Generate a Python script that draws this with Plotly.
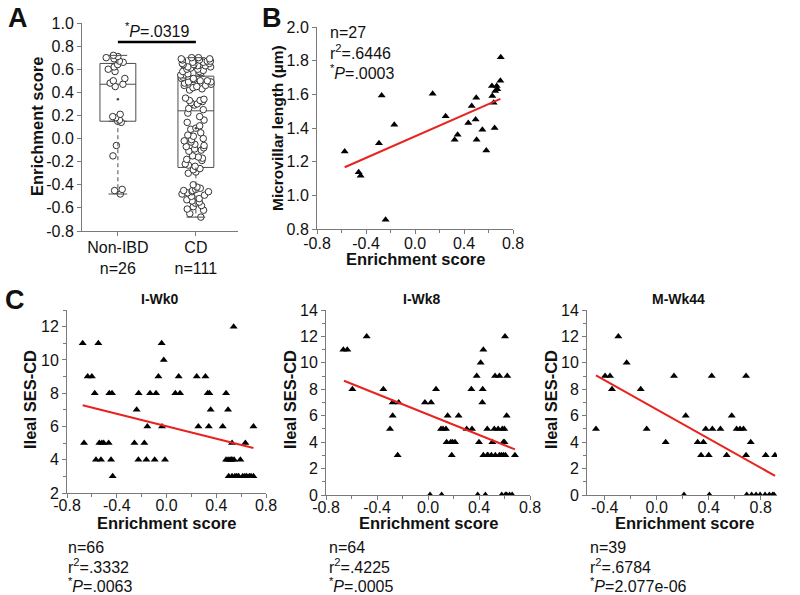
import plotly.graph_objects as go

W, H = 800, 595
FONT = "Arial, Liberation Sans, sans-serif"
AXC = "#7a7a7a"

# ---------------- Panel A data ----------------
groups = ["Non-IBD", "CD"]
group_n = [26, 111]
a_q1 = [0.15, -0.25]
a_median = [0.47, 0.24]
a_q3 = [0.65, 0.54]
a_lower = [-0.48, -0.68]
a_upper = [0.72, 0.70]
a_mean = [0.34, 0.09]
nonibd_scores = [0.72, 0.71, 0.70, 0.69, 0.67, 0.66, 0.64, 0.62, 0.60, 0.58, 0.52, 0.50,
                 0.48, 0.47, 0.45, 0.21, 0.19, 0.18, 0.16, 0.15, 0.14, -0.06, -0.15,
                 -0.44, -0.45, -0.48]
cd_scores = [0.70, 0.70, 0.69, 0.69, 0.68, 0.68, 0.67, 0.67, 0.66, 0.66, 0.65, 0.65,
             0.64, 0.64, 0.63, 0.63, 0.62, 0.62, 0.61, 0.60, 0.60, 0.59, 0.58, 0.58,
             0.57, 0.56, 0.55, 0.55, 0.54, 0.53, 0.52, 0.52, 0.51, 0.50, 0.50, 0.49,
             0.49, 0.48, 0.47, 0.46, 0.46, 0.45, 0.44, 0.43, 0.42,
             0.35, 0.34, 0.33, 0.33, 0.32, 0.31, 0.30, 0.29, 0.26, 0.25,
             0.22, 0.19, 0.16, 0.14, 0.11, 0.09, 0.08,
             0.05, 0.03, 0.02, 0.00, -0.01, -0.02, -0.03, -0.05, -0.06, -0.07, -0.08,
             -0.09, -0.10, -0.11,
             -0.15, -0.16, -0.17, -0.18, -0.19, -0.22, -0.23, -0.24, -0.26, -0.27,
             -0.29, -0.30,
             -0.40, -0.42, -0.43, -0.44, -0.45, -0.45, -0.46, -0.46, -0.47, -0.48,
             -0.49, -0.50, -0.52, -0.53, -0.54, -0.55, -0.56, -0.58, -0.59, -0.61,
             -0.62, -0.65, -0.68]
a_sig_y = 0.836
a_sig_text = "<sup>*</sup><i>P</i>=.0319"
a_yticks = [-0.8, -0.6, -0.4, -0.2, 0.0, 0.2, 0.4, 0.6, 0.8, 1.0]
a_yticklabels = ["-0.8", "-0.6", "-0.4", "-0.2", "0.0", "0.2", "0.4", "0.6", "0.8", "1.0"]

# ---------------- Panel B data ----------------
b_x = [-0.574, -0.46, -0.444, -0.294, -0.272, -0.24, -0.169, 0.144, 0.25, 0.324,
       0.348, 0.435, 0.463, 0.495, 0.50, 0.503, 0.55, 0.582, 0.628, 0.631, 0.642,
       0.65, 0.667, 0.672, 0.697, 0.70, 0.655]
b_y = [1.26, 1.137, 1.117, 1.31, 1.593, 0.855, 1.42, 1.603, 1.47, 1.33,
       1.36, 1.43, 1.53, 1.45, 1.58, 1.33, 1.39, 1.266, 1.649, 1.59, 1.55,
       1.40, 1.649, 1.63, 1.68, 1.82, 1.62]
b_fit_x = [-0.574, 0.697]
b_fit_y = [1.167, 1.573]
b_stats = ["n=27", "r<sup>2</sup>=.6446", "<sup>*</sup><i>P</i>=.0003"]
b_yticks = [0.8, 1.0, 1.2, 1.4, 1.6, 1.8, 2.0]
b_yticklabels = ["0.8", "1.0", "1.2", "1.4", "1.6", "1.8", "2.0"]

es_ticks = [-0.8, -0.4, 0.0, 0.4, 0.8]
es_ticklabels = ["-0.8", "-0.4", "0.0", "0.4", "0.8"]

# ---------------- Panel C data ----------------
c_titles = ["I-Wk0", "I-Wk8", "M-Wk44"]

c1_levels = [12, 11, 10, 9, 8, 7, 6, 5, 4, 3]
c1_x_by_level = [
    [0.54],
    [-0.674, -0.548, -0.039],
    [-0.022],
    [-0.634, -0.60, -0.065, 0.098, 0.243, 0.313],
    [-0.577, -0.46, -0.438, -0.224, -0.132, -0.084, 0.071, 0.109, 0.331, 0.345, 0.479],
    [-0.24, 0.355, 0.495],
    [-0.154, -0.036, 0.256, 0.34, 0.452, 0.699],
    [-0.663, -0.54, -0.52, -0.505, -0.465, -0.258, -0.178, 0.527, 0.634],
    [-0.567, -0.527, -0.446, -0.226, -0.162, -0.095, -0.012, 0.479, 0.495, 0.511,
     0.52, 0.527, 0.543, 0.594],
    [-0.433, 0.50, 0.527, 0.55, 0.565, 0.58, 0.613, 0.63, 0.645, 0.666, 0.68, 0.699],
]
c1_fit_x = [-0.674, 0.699]
c1_fit_y = [7.28, 4.71]
c1_stats = ["n=66", "r<sup>2</sup>=.3332", "<sup>*</sup><i>P</i>=.0063"]

c2_levels = [12, 11, 10, 9, 8, 7, 6, 5, 4, 3, 0]
c2_x_by_level = [
    [-0.481, 0.604],
    [-0.664, -0.633, 0.434],
    [0.413],
    [0.382, 0.526, 0.56, 0.622],
    [-0.593, -0.35, 0.063, 0.34, 0.429],
    [-0.277, -0.23, -0.024, 0.024, 0.426],
    [-0.277, 0.154, 0.24, 0.617],
    [-0.298, 0.102, 0.118, 0.141, 0.303, 0.345, 0.465, 0.52, 0.55, 0.583, 0.599],
    [0.146, 0.178, 0.193, 0.212, 0.40, 0.505, 0.591, 0.60],
    [-0.238, 0.186, 0.434, 0.465, 0.47, 0.497, 0.528, 0.56, 0.575, 0.591, 0.607, 0.682],
    [0.016, 0.107, 0.39, 0.45, 0.578, 0.607, 0.617, 0.64, 0.66],
]
c2_fit_x = [-0.659, 0.682]
c2_fit_y = [8.65, 3.45]
c2_stats = ["n=64", "r<sup>2</sup>=.4225", "<sup>*</sup><i>P</i>=.0005"]

c3_levels = [12, 10, 9, 8, 6, 5, 4, 3, 0]
c3_x_by_level = [
    [-0.295],
    [-0.231],
    [-0.397, -0.359, 0.133, 0.423, 0.687],
    [-0.344, -0.123],
    [0.223, 0.577],
    [-0.467, -0.077, 0.377, 0.428, 0.49, 0.615, 0.641, 0.667],
    [0.069, 0.315, 0.359, 0.723],
    [0.341, 0.40, 0.538, 0.687, 0.838, 0.91],
    [0.21, 0.405, 0.692, 0.73, 0.764, 0.795, 0.833, 0.866, 0.892, 0.902],
]
c3_fit_x = [-0.467, 0.91]
c3_fit_y = [9.05, 1.45]
c3_stats = ["n=39", "r<sup>2</sup>=.6784", "<sup>*</sup><i>P</i>=2.077e-06"]


def flatten(levels, xs_by_level):
    xs, ys = [], []
    for lv, xs_l in zip(levels, xs_by_level):
        xs.extend(xs_l)
        ys.extend([lv] * len(xs_l))
    return xs, ys


def dx(p0, p1):
    return [p0 / W, p1 / W]


def dy(top, bottom):
    return [1 - bottom / H, 1 - top / H]


def px(x):
    return x / W


def py(y):
    return 1 - y / H


fig = go.Figure()

# ---------- Panel A ----------
box_w = 0.46
cap_half = 0.12
BOXC = "#4d4d4d"
for i, g in enumerate(groups):
    fig.add_trace(go.Box(
        x=[i], q1=[a_q1[i]], median=[a_median[i]], q3=[a_q3[i]],
        lowerfence=[a_q1[i]], upperfence=[a_q3[i]], width=box_w,
        fillcolor="rgba(0,0,0,0)", line=dict(color=BOXC, width=1),
        boxpoints=False, xaxis="x", yaxis="y", showlegend=False, hoverinfo="skip"))
    fig.add_trace(go.Scatter(
        x=[i, i, None, i, i], y=[a_q1[i], a_lower[i], None, a_q3[i], a_upper[i]],
        mode="lines", line=dict(color=BOXC, width=1, dash="4px,3px"),
        xaxis="x", yaxis="y", showlegend=False, hoverinfo="skip"))
    fig.add_trace(go.Scatter(
        x=[i - cap_half, i + cap_half, None, i - cap_half, i + cap_half],
        y=[a_lower[i], a_lower[i], None, a_upper[i], a_upper[i]],
        mode="lines", line=dict(color=BOXC, width=1),
        xaxis="x", yaxis="y", showlegend=False, hoverinfo="skip"))

for i, vals in enumerate([nonibd_scores, cd_scores]):
    fig.add_trace(go.Box(
        x=[i] * len(vals), y=vals, width=box_w, boxpoints="all", jitter=0.85, pointpos=0,
        fillcolor="rgba(0,0,0,0)", line=dict(color="rgba(0,0,0,0)", width=0),
        marker=dict(symbol="circle", size=6.5, color="white",
                    line=dict(color="#333333", width=1)),
        xaxis="x", yaxis="y", showlegend=False))

fig.add_trace(go.Scatter(
    x=[0, 1], y=a_mean, mode="markers", marker=dict(size=2.5, color="#444444"),
    xaxis="x", yaxis="y", showlegend=False, hoverinfo="skip"))

fig.add_trace(go.Scatter(
    x=[0, 1], y=[a_sig_y, a_sig_y], mode="lines", line=dict(color="black", width=2.5),
    xaxis="x", yaxis="y", showlegend=False, hoverinfo="skip", cliponaxis=False))

# ---------- Panel B ----------
tri = dict(symbol="triangle-up", size=7, color="black")
fig.add_trace(go.Scatter(x=b_x, y=b_y, mode="markers", marker=tri,
                         xaxis="x2", yaxis="y2", showlegend=False))
fig.add_trace(go.Scatter(x=b_fit_x, y=b_fit_y, mode="lines",
                         line=dict(color="#e8231f", width=2),
                         xaxis="x2", yaxis="y2", showlegend=False))

# ---------- Panel C ----------
c_sets = [(c1_levels, c1_x_by_level, c1_fit_x, c1_fit_y),
          (c2_levels, c2_x_by_level, c2_fit_x, c2_fit_y),
          (c3_levels, c3_x_by_level, c3_fit_x, c3_fit_y)]
for k, (lv, xb, fx, fy) in enumerate(c_sets):
    xs, ys = flatten(lv, xb)
    xa, ya = "x%d" % (k + 3), "y%d" % (k + 3)
    fig.add_trace(go.Scatter(x=xs, y=ys, mode="markers", marker=tri,
                             xaxis=xa, yaxis=ya, showlegend=False))
    fig.add_trace(go.Scatter(x=fx, y=fy, mode="lines",
                             line=dict(color="#e8231f", width=2),
                             xaxis=xa, yaxis=ya, showlegend=False))

TICKSZ = 16
base = dict(showline=True, linecolor=AXC, linewidth=1, ticks="outside", ticklen=4,
            tickcolor=AXC, showgrid=False, zeroline=False, automargin=False,
            tickfont=dict(family=FONT, size=TICKSZ, color="#111111"))
minor_x = dict(ticks="outside", ticklen=3, tickcolor=AXC, tickmode="linear",
               tick0=-0.8, dtick=0.2, showgrid=False)
minor_y = dict(ticks="outside", ticklen=3, tickcolor=AXC, tickmode="linear",
               tick0=0, dtick=1, showgrid=False)

layout = dict(
    template="none",
    width=W, height=H, margin=dict(l=0, r=0, t=0, b=0, pad=0, autoexpand=False),
    paper_bgcolor="white", plot_bgcolor="white", boxmode="overlay",
    font=dict(family=FONT, color="#111111"),
    xaxis=dict(base, domain=dx(82, 238), range=[-0.46, 1.54], anchor="y",
               tickmode="array", tickvals=[0, 1], ticklabelstandoff=-2,
               ticktext=["%s<br>n=%d" % (g, n) for g, n in zip(groups, group_n)]),
    yaxis=dict(base, domain=dy(23, 231), range=[-0.8, 1.0], anchor="x",
               tickmode="array", tickvals=a_yticks, ticktext=a_yticklabels),
    xaxis2=dict(base, domain=dx(317, 513), range=[-0.8, 0.8], anchor="y2",
                tickmode="array", tickvals=es_ticks, ticktext=es_ticklabels, minor=minor_x,
                ticklabelstandoff=-4),
    yaxis2=dict(base, domain=dy(27, 229), range=[0.8, 2.0], anchor="x2",
                tickmode="array", tickvals=b_yticks, ticktext=b_yticklabels),
    xaxis3=dict(base, domain=dx(67, 266), range=[-0.8, 0.8], anchor="y3",
                tickmode="array", tickvals=es_ticks, ticktext=es_ticklabels, minor=minor_x,
                ticklabelstandoff=-6),
    yaxis3=dict(base, domain=dy(310, 493), range=[2, 13], anchor="x3",
                tickmode="linear", tick0=2, dtick=2, minor=minor_y),
    xaxis4=dict(base, domain=dx(326, 530), range=[-0.8, 0.8], anchor="y4",
                tickmode="array", tickvals=es_ticks, ticktext=es_ticklabels, minor=minor_x,
                ticklabelstandoff=-6),
    yaxis4=dict(base, domain=dy(310, 495), range=[0, 14], anchor="x4",
                tickmode="linear", tick0=0, dtick=2, minor=minor_y),
    xaxis5=dict(base, domain=dx(587, 777), range=[-0.536, 0.925], anchor="y5",
                tickmode="array", tickvals=es_ticks[1:], ticktext=es_ticklabels[1:],
                minor=minor_x, ticklabelstandoff=-6),
    yaxis5=dict(base, domain=dy(310, 495), range=[0, 14], anchor="x5",
                tickmode="linear", tick0=0, dtick=2, minor=minor_y),
)

ann = []


def text(x, y, t, size=16.5, bold=False, angle=0, xanchor="center", color="#111111"):
    ann.append(dict(x=px(x), y=py(y), xref="paper", yref="paper",
                    text=("<b>%s</b>" % t) if bold else t,
                    showarrow=False, textangle=angle, xanchor=xanchor, yanchor="middle",
                    font=dict(family=FONT, size=size, color=color)))


# panel letters
text(18, 18, "A", size=27, bold=True)
text(272, 18, "B", size=27, bold=True)
text(15, 300, "C", size=27, bold=True)

# A
text(37, 127, "Enrichment score", bold=True, angle=-90)
text(157, 30, a_sig_text, size=16)
# B
text(277, 128, "Microvillar length (µm)", bold=True, angle=-90, size=15.5)
text(415, 259, "Enrichment score", bold=True)
for j, s in enumerate(b_stats):
    text(328, 32 + 20 * j, s, size=16, xanchor="left")
# C
c_centers = [166, 428, 684]
c_left = [66, 327, 588]
c_ytitle_x = [30, 290, 551]
for k, stats in enumerate([c1_stats, c2_stats, c3_stats]):
    text(c_centers[k] - 6, 299, c_titles[k], bold=True, size=14)
    text(c_centers[k], 523, "Enrichment score", bold=True)
    text(c_ytitle_x[k], 400, "Ileal SES-CD", bold=True, angle=-90)
    for j, s in enumerate(stats):
        text(c_left[k], 547 + 19 * j, s, size=16, xanchor="left")

layout["annotations"] = ann
fig.update_layout(**layout)
fig.write_html("out.html",
               config={"displayModeBar": False, "staticPlot": True},
               post_script="document.body.style.margin='0';document.body.style.padding='0';"
                           "document.body.style.overflow='hidden';")
